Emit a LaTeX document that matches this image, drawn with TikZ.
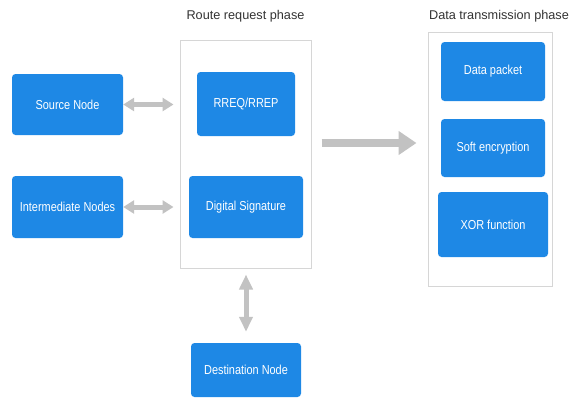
\documentclass[tikz,border=0pt]{standalone}
\usepackage{fontspec}
\setmainfont{Liberation Sans}
\newfontfamily\boxfont[FakeStretch=0.84]{Liberation Sans}
\usepackage{xcolor}
\usepackage{tikz}
\usetikzlibrary{positioning,arrows.meta,calc}

\definecolor{boxblue}{HTML}{1E88E5}
\definecolor{arrowgray}{HTML}{C2C2C2}
\definecolor{framegray}{HTML}{D6D6D6}
\definecolor{titlegray}{HTML}{333333}

\begin{document}
\begin{tikzpicture}[x=1pt, y=-1pt,
    box/.style={rectangle, fill=boxblue, text=white, font=\boxfont\fontsize{13}{15}\selectfont, rounded corners=3.5pt, inner sep=0pt, align=center},
    frame/.style={rectangle, draw=framegray, line width=1pt, inner sep=0pt},
    title/.style={text=titlegray, font=\fontsize{12.7}{15}\selectfont, inner sep=0pt},
    link/.style={{Triangle[width=13pt,length=11pt]}-{Triangle[width=13pt,length=11pt]}, draw=arrowgray, line width=5pt},
    vlink/.style={{Triangle[width=13pt,length=15pt]}-{Triangle[width=13pt,length=15pt]}, draw=arrowgray, line width=5pt},
    bigarrow/.style={-{Triangle[width=23pt,length=18pt]}, draw=arrowgray, line width=8pt}
]
\useasboundingbox (0,0) rectangle (572,397);

% phase frames
\node[frame, minimum width=131pt, minimum height=228pt] (route) at (245.5,154) {};
\node[frame, minimum width=124pt, minimum height=254pt] (data) at (490,159) {};
\node[title] (routetitle) at (245.5,16) {Route request phase};
\node[title] (datatitle) at (499,16) {Data transmission phase};

% left column
\node[box, minimum width=111pt, minimum height=61pt] (src) at (67.5,104.5) {Source Node};
\node[box, minimum width=111pt, minimum height=62pt] (inter) at (67.5,207) {Intermediate Nodes};

% route request phase
\node[box, minimum width=98pt, minimum height=64pt] (rreq) at (246,104) {RREQ/RREP};
\node[box, minimum width=114pt, minimum height=62pt] (sig) at (246,207) {Digital Signature};
\node[box, minimum width=110pt, minimum height=54pt] (dest) at (246,370) {Destination Node};

% data transmission phase
\node[box, minimum width=104pt, minimum height=59pt] (packet) at (493,71.5) {Data packet};
\node[box, minimum width=104pt, minimum height=58pt] (soft) at (493,148) {Soft encryption};
\node[box, minimum width=110pt, minimum height=65pt] (xor) at (493,224.5) {XOR function};

\draw[link, shorten >=6pt] (src.east) -- (src.east -| route.west);
\draw[link, shorten >=6pt] (inter.east) -- (inter.east -| route.west);
\draw[vlink, shorten <=6pt, shorten >=11pt] (route.south -| dest.north) -- (dest.north);
\draw[bigarrow, shorten <=10pt, shorten >=11pt] ([yshift=11pt]route.east) -- ([yshift=11pt]route.east -| data.west);

\end{tikzpicture}
\end{document}
